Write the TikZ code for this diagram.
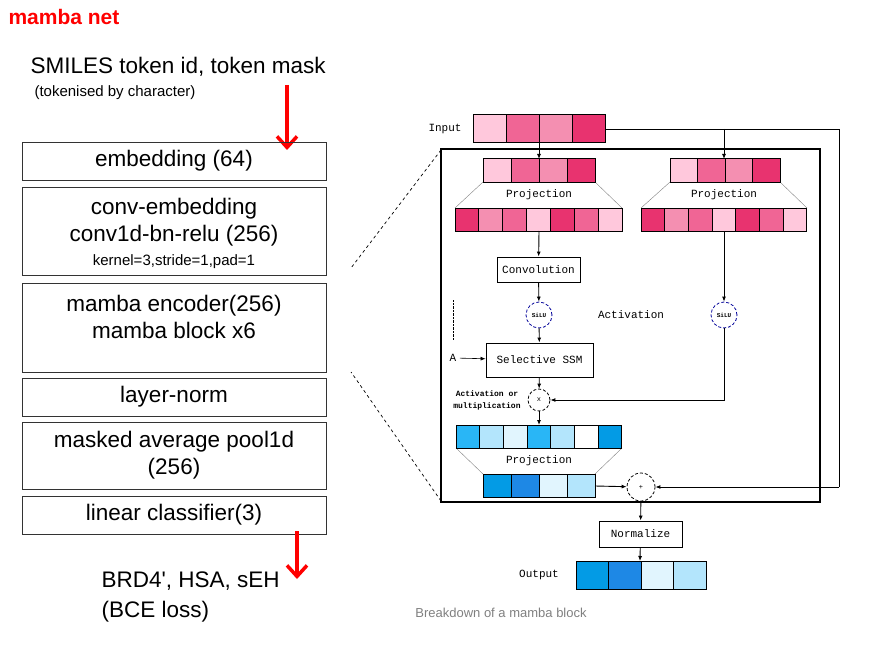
\documentclass[tikz,border=0pt]{standalone}
\usepackage{fontspec}
\setmainfont{Liberation Sans}
\newfontfamily\plainf{Liberation Sans}
\newfontfamily\monof{Liberation Mono}
\usetikzlibrary{arrows.meta}
\definecolor{pA}{HTML}{FFC8DC}\definecolor{pB}{HTML}{F06595}\definecolor{pC}{HTML}{F48FB1}\definecolor{pD}{HTML}{E8336F}
\definecolor{bA}{HTML}{29B6F6}\definecolor{bB}{HTML}{B3E5FC}\definecolor{bC}{HTML}{E1F5FE}\definecolor{bD}{HTML}{039BE5}\definecolor{bE}{HTML}{1E88E5}
\begin{document}
\begin{tikzpicture}[x=1pt,y=-1pt,
 lbox/.style={draw=black!80,line width=0.8pt},
 ltxt/.style={font=\fontsize{22.5}{27}\selectfont,align=center},
 mono/.style={font=\monof\fontsize{11}{13}\selectfont},
 mbox/.style={draw,line width=0.9pt,fill=white,mono},
 cell/.style={draw,line width=1pt},
 arr/.style={-{Latex[length=5pt,width=4pt]},line width=0.9pt},
 redarr/.style={red,line width=3.5pt,-{Straight Barb[length=11pt,width=20pt]}}]
\useasboundingbox (0,0) rectangle (870,650);
\node[anchor=west,font=\bfseries\fontsize{21}{24}\selectfont,text=red] (title) at (5,17) {mamba net};
\node[anchor=west,font=\fontsize{22.5}{27}\selectfont] (in1) at (27,67) {SMILES token id, token mask};
\node[anchor=west,font=\fontsize{15}{18}\selectfont] (in2) at (31,93) {(tokenised by character)};
\coordinate (ra1) at (287,85); \coordinate (ra2) at (287,150);
\draw[redarr] (ra1) -- (ra2);
\draw[lbox] (22,142) rectangle node[ltxt] (b1) {embedding (64)} (326,180);
\draw[lbox] (22,187) rectangle (326,275);
\node[ltxt] (b2) at (174,222) {conv-embedding\\conv1d-bn-relu (256)};
\node[font=\fontsize{15}{18}\selectfont] (b2s) at (174,262) {kernel=3,stride=1,pad=1};
\draw[lbox] (22,283) rectangle (326,372);
\node[ltxt] (b3) at (174,317) {mamba encoder(256)\\mamba block x6};
\draw[lbox] (22,378) rectangle node[ltxt] (b4) {layer-norm} (326,416);
\draw[lbox] (22,422) rectangle node[ltxt] (b5) {masked average pool1d\\(256)} (326,489);
\draw[lbox] (22,496) rectangle node[ltxt] (b6) {linear classifier(3)} (326,534);
\coordinate (rb1) at (297,531); \coordinate (rb2) at (297,579);
\draw[redarr] (rb1) -- (rb2);
\node[anchor=west,align=left,font=\fontsize{22.5}{30}\selectfont] (outt) at (98,597) {BRD4{\plainf '}, HSA, sEH\\(BCE loss)};
% right
\draw[dashed,line width=0.7pt] (441,150) -- (351,268);
\draw[dashed,line width=0.7pt] (441,501) -- (351,372);
\draw[line width=2.2pt] (441,149) rectangle (820,502);
\node[mono] (inl) at (445,129) {Input};
\foreach \c [count=\i] in {pA,pB,pC,pD} \draw[cell,fill=\c] (473+33*\i-33,115) rectangle ++(33,28);
\coordinate (inR) at (605,129);
% left projection
\draw[gray] (483,182) -- (455,208); \draw[gray] (595,182)--(622,208);
\foreach \c [count=\i] in {pA,pB,pC,pD} \draw[cell,fill=\c] (483+28*\i-28,159) rectangle ++(28,23);
\foreach \c [count=\i] in {pD,pC,pB,pA,pD,pB,pA} \draw[cell,fill=\c] (455+23.86*\i-23.86,208) rectangle ++(23.86,23);
\node[mono] (pl1) at (539,195) {Projection};
% right projection
\draw[gray] (670,182) -- (641,208); \draw[gray] (780,182)--(807,208);
\foreach \c [count=\i] in {pA,pB,pC,pD} \draw[cell,fill=\c] (670+27.5*\i-27.5,159) rectangle ++(27.5,23);
\foreach \c [count=\i] in {pD,pC,pB,pA,pD,pB,pA} \draw[cell,fill=\c] (641+23.7*\i-23.7,208) rectangle ++(23.7,23);
\node[mono] (pl2) at (724,195) {Projection};
\draw[arr] (539,143) -- (539,159);
\draw[line width=0.9pt] (inR) -- (839,129) -- (839,487);
\draw[arr] (724,129) -- (724,159);
\node[mbox,minimum width=83pt,minimum height=25pt] (conv) at (538.5,269.5) {Convolution};
\draw[arr] (539,231) -- (conv);
\node[circle,draw=blue!60!black,densely dashed,line width=0.8pt,minimum size=26pt,inner sep=0pt,font=\monof\bfseries\fontsize{6}{7}\selectfont] (s1) at (539,315) {SiLU};
\node[circle,draw=blue!60!black,densely dashed,line width=0.8pt,minimum size=26pt,inner sep=0pt,font=\monof\bfseries\fontsize{6}{7}\selectfont] (s2) at (724,315) {SiLU};
\node[mono] (act) at (631,315) {Activation};
\draw[arr] (conv) -- (s1);
\draw[arr] (724,231) -- (s2);
\draw[densely dotted] (453,300) -- (453,340);
\node[mbox,minimum width=107pt,minimum height=34pt] (ssm) at (539.5,360) {Selective SSM};
\node[mono] (A) at (453,358) {A};
\draw[arr,line width=0.6pt] (A) -- (ssm);
\draw[arr] (s1) -- (ssm);
\node[circle,draw,densely dashed,line width=0.8pt,minimum size=22pt,inner sep=0pt,font=\monof\fontsize{7}{8}\selectfont] (mul) at (539,400) {x};
\node[mono,font=\monof\bfseries\fontsize{8}{12}\selectfont,align=center] (aom) at (487,400) {Activation or\\multiplication};
\draw[arr] (ssm) -- (mul);
\draw[arr] (s2) -- (724,400) -- (mul);
\draw[gray] (456,448) -- (483,474); \draw[gray] (622,448) -- (595,474);
\foreach \c [count=\i] in {bA,bB,bC,bA,bB,white,bD} \draw[cell,fill=\c] (456+23.7*\i-23.7,425) rectangle ++(23.7,23);
\draw[arr] (mul) -- (539,425);
\node[mono] (pl3) at (539,461) {Projection};
\foreach \c [count=\i] in {bD,bE,bC,bB} \draw[cell,fill=\c] (483+28*\i-28,474) rectangle ++(28,23);
\node[circle,draw,densely dashed,line width=0.8pt,minimum size=28pt,inner sep=0pt,font=\monof\fontsize{7}{8}\selectfont] (plus) at (641,487) {+};
\draw[arr] (595,486) -- (plus);
\draw[arr] (839,487) -- (plus);
\node[mbox,minimum width=83pt,minimum height=26pt] (norm) at (640.5,534) {Normalize};
\draw[arr] (plus) -- (norm);
\node[mono] (outl) at (539,575) {Output};
\foreach \c [count=\i] in {bD,bE,bC,bB} \draw[cell,fill=\c] (576+32.5*\i-32.5,561) rectangle ++(32.5,28);
\draw[arr] (norm) -- (640,561);
\node[text=gray,font=\fontsize{13}{15}\selectfont] (cap) at (501,613) {Breakdown of a mamba block};
\end{tikzpicture}
\end{document}
